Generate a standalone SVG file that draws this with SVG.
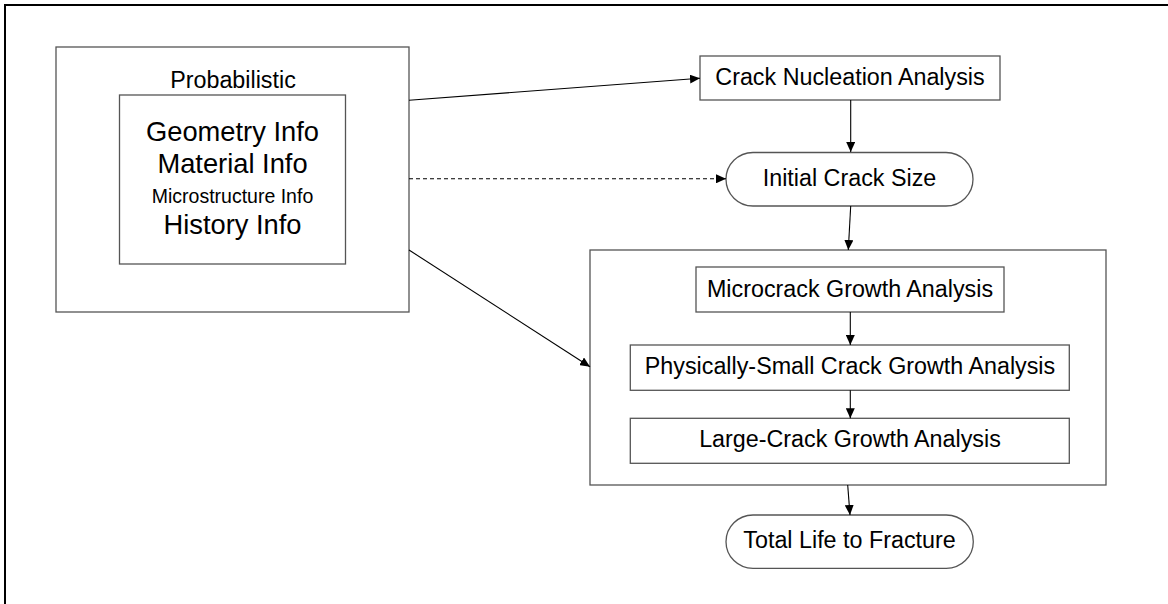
<svg xmlns="http://www.w3.org/2000/svg" width="1168" height="604" viewBox="0 0 1168 604">
<style>
  .box { fill: #ffffff; stroke: #555555; stroke-width: 1.3; }
  .frame { fill: none; stroke: #000000; stroke-width: 2; }
  .t { font-family: "Liberation Sans", Arial, sans-serif; fill: #000000; text-anchor: middle; }
  .f23 { font-size: 23.3px; }
  .f27 { font-size: 27.3px; }
  .f19 { font-size: 19.5px; }
  .conn { fill: none; stroke: #000000; stroke-width: 1.1; marker-end: url(#ah); }
  .dash { stroke-dasharray: 4 3; }
</style>
<defs>
  <marker id="ah" viewBox="0 0 10 9" refX="10" refY="4.5" markerWidth="10" markerHeight="9" orient="auto" markerUnits="userSpaceOnUse">
    <path d="M0,0 L10,4.5 L0,9 z" fill="#000000"/>
  </marker>
</defs>
<rect x="0" y="0" width="1168" height="604" fill="#ffffff"/>
<rect class="frame" x="5" y="5" width="1200" height="700"/>

<g id="probabilistic">
  <rect class="box" x="56" y="47" width="353" height="265"/>
  <text class="t f23" x="233" y="87.7">Probabilistic</text>
</g>
<g id="info">
  <rect class="box" x="119.5" y="95" width="226" height="169"/>
  <text class="t f27" x="232.5" y="140.7">Geometry Info</text>
  <text class="t f27" x="232.5" y="173.3">Material Info</text>
  <text class="t f19" x="232.5" y="202.7">Microstructure Info</text>
  <text class="t f27" x="232.5" y="234.3">History Info</text>
</g>
<g id="crack-nucleation">
  <rect class="box" x="700" y="56" width="300" height="44"/>
  <text class="t f23" x="850" y="85">Crack Nucleation Analysis</text>
</g>
<g id="initial-crack-size">
  <rect class="box" x="726" y="152.5" width="247" height="53.5" rx="27" ry="26.75"/>
  <text class="t f23" x="849.5" y="185.7">Initial Crack Size</text>
</g>
<g id="growth-container">
  <rect class="box" x="590" y="250" width="516" height="235"/>
</g>
<g id="microcrack">
  <rect class="box" x="696" y="267" width="308" height="45"/>
  <text class="t f23" x="850" y="296.7">Microcrack Growth Analysis</text>
</g>
<g id="physically-small">
  <rect class="box" x="630.3" y="345" width="439" height="45.3"/>
  <text class="t f23" x="850" y="374.3">Physically-Small Crack Growth Analysis</text>
</g>
<g id="large-crack">
  <rect class="box" x="630.3" y="418.3" width="439" height="45"/>
  <text class="t f23" x="850" y="447.3">Large-Crack Growth Analysis</text>
</g>
<g id="total-life">
  <rect class="box" x="726" y="515" width="247.3" height="53.3" rx="27" ry="26.65"/>
  <text class="t f23" x="849.5" y="548.3">Total Life to Fracture</text>
</g>

<g id="connectors">
  <line class="conn" x1="409" y1="100.3" x2="700" y2="78.3"/>
  <line class="conn dash" x1="409" y1="178.8" x2="726" y2="178.8"/>
  <line class="conn" x1="409" y1="250" x2="590" y2="366.7"/>
  <line class="conn" x1="850.7" y1="100" x2="850.7" y2="152"/>
  <line class="conn" x1="850.7" y1="206" x2="848.3" y2="250"/>
  <line class="conn" x1="850.3" y1="312" x2="850.3" y2="345"/>
  <line class="conn" x1="850.3" y1="390.3" x2="850.3" y2="418.3"/>
  <line class="conn" x1="847.7" y1="485" x2="850" y2="515"/>
</g>
</svg>
